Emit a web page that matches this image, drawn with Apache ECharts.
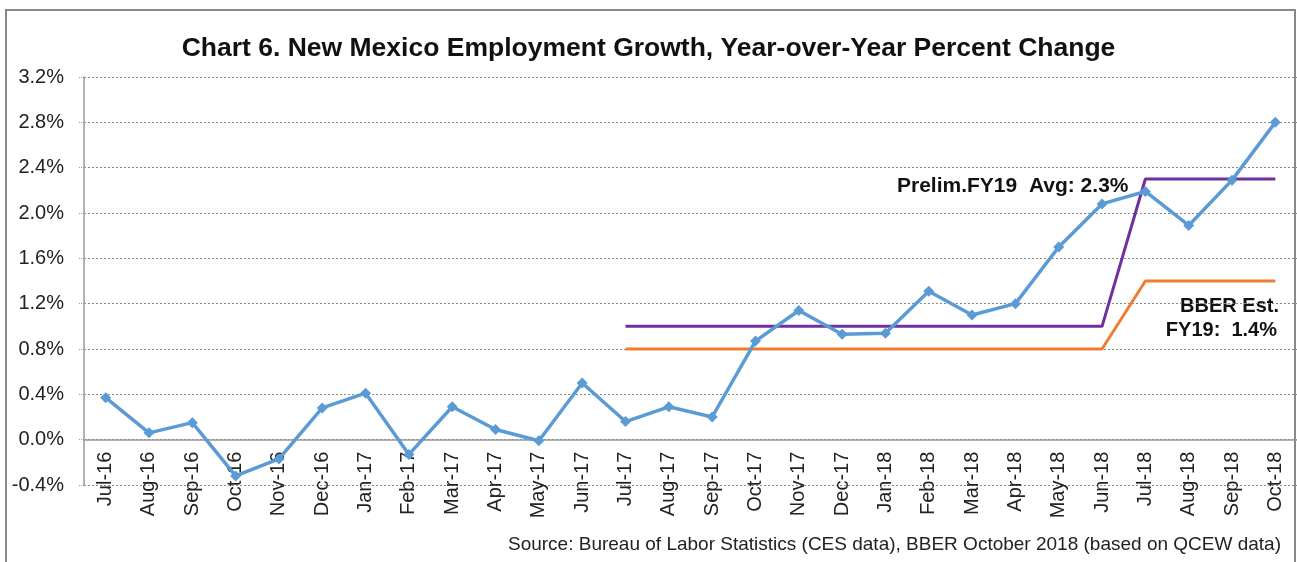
<!DOCTYPE html>
<html lang="en" style="height: 100%">
<head>
    <meta charset="utf-8">
</head>
<body style="height: 100%; margin: 0; background: #fff">
    <div id="main" style="width: 1297px; height: 562px"></div>
    <script src="https://fastly.jsdelivr.net/npm/echarts@6.0.0/dist/echarts.min.js"></script>
    <script type="text/javascript">
        var months = ['Jul-16', 'Aug-16', 'Sep-16', 'Oct-16', 'Nov-16', 'Dec-16', 'Jan-17', 'Feb-17',
            'Mar-17', 'Apr-17', 'May-17', 'Jun-17', 'Jul-17', 'Aug-17', 'Sep-17', 'Oct-17', 'Nov-17',
            'Dec-17', 'Jan-18', 'Feb-18', 'Mar-18', 'Apr-18', 'May-18', 'Jun-18', 'Jul-18', 'Aug-18',
            'Sep-18', 'Oct-18'];
        // year-over-year % change
        var growth = [0.37, 0.06, 0.15, -0.32, -0.17, 0.28, 0.41, -0.13, 0.29, 0.09, -0.01, 0.50,
            0.16, 0.29, 0.20, 0.87, 1.14, 0.93, 0.94, 1.31, 1.10, 1.20, 1.70, 2.08, 2.19, 1.89, 2.29, 2.80];
        var prelim = [null, null, null, null, null, null, null, null, null, null, null, null,
            1.0, 1.0, 1.0, 1.0, 1.0, 1.0, 1.0, 1.0, 1.0, 1.0, 1.0, 1.0, 2.3, 2.3, 2.3, 2.3];
        var bber = [null, null, null, null, null, null, null, null, null, null, null, null,
            0.8, 0.8, 0.8, 0.8, 0.8, 0.8, 0.8, 0.8, 0.8, 0.8, 0.8, 0.8, 1.4, 1.4, 1.4, 1.4];

        var dom = document.getElementById('main');
        var myChart = echarts.init(dom, null, { renderer: 'canvas' });
        var font = 'Liberation Sans, Arial, sans-serif';
        var gridTop = 77, gridBottom = 77;
        // move the category axis up from the -0.4 edge to the zero line
        var zeroOffset = (562 - gridTop - gridBottom) / 9;

        var option = {
            animation: false,
            backgroundColor: '#fff',
            title: {
                text: 'Chart 6. New Mexico Employment Growth, Year-over-Year Percent Change',
                left: 'center',
                top: 30,
                textStyle: { fontFamily: font, fontSize: 26.5, fontWeight: 'bold', color: '#111' }
            },
            grid: { left: 84, right: 0, top: gridTop, bottom: gridBottom },
            xAxis: {
                type: 'category',
                data: months,
                boundaryGap: true,
                offset: -zeroOffset,
                axisLine: { onZero: false, lineStyle: { color: '#999', width: 1.5 } },
                axisTick: { show: false },
                axisLabel: {
                    rotate: 90, interval: 0, margin: 12,
                    fontFamily: font, fontSize: 20, color: '#222'
                }
            },
            yAxis: {
                type: 'value',
                min: -0.4, max: 3.2, interval: 0.4,
                axisLine: { show: true, lineStyle: { color: '#999', width: 1.5 } },
                axisTick: { show: true, length: 6, lineStyle: { color: '#999', type: 'dotted' } },
                axisLabel: {
                    margin: 20, fontFamily: font, fontSize: 20, color: '#222',
                    formatter: function (v) { return v.toFixed(1) + '%'; }
                },
                splitLine: { lineStyle: { color: '#888', type: [2, 2], width: 1 } }
            },
            series: [
                {
                    name: 'Prelim FY19',
                    type: 'line',
                    data: prelim,
                    showSymbol: false,
                    lineStyle: { color: '#7030A0', width: 3 },
                    z: 2
                },
                {
                    name: 'BBER FY19',
                    type: 'line',
                    data: bber,
                    showSymbol: false,
                    lineStyle: { color: '#ED7D31', width: 3 },
                    z: 2
                },
                {
                    name: 'Employment growth',
                    type: 'line',
                    data: growth,
                    symbol: 'diamond',
                    symbolSize: 11,
                    itemStyle: { color: '#5B9BD5' },
                    lineStyle: { color: '#5B9BD5', width: 3.5 },
                    z: 3
                }
            ],
            graphic: [
                {
                    type: 'rect',
                    shape: { x: 6, y: 10, width: 1289, height: 600 },
                    style: { fill: 'none', stroke: '#888', lineWidth: 2 },
                    silent: true
                },
                {
                    type: 'text', left: 897, top: 176,
                    style: { text: 'Prelim.FY19  Avg: 2.3%', fontFamily: font, fontSize: 21, fontWeight: 'bold', fill: '#111' }
                },
                {
                    type: 'text', right: 18, top: 296,
                    style: { text: 'BBER Est.', fontFamily: font, fontSize: 20, fontWeight: 'bold', fill: '#111', align: 'right' }
                },
                {
                    type: 'text', right: 20, top: 320,
                    style: { text: 'FY19:  1.4%', fontFamily: font, fontSize: 20, fontWeight: 'bold', fill: '#111', align: 'right' }
                },
                {
                    type: 'text', right: 16, top: 535,
                    style: { text: 'Source: Bureau of Labor Statistics (CES data), BBER October 2018 (based on QCEW data)', fontFamily: font, fontSize: 19, fill: '#222' }
                }
            ]
        };

        myChart.setOption(option);
        window.addEventListener('resize', myChart.resize);
    </script>
</body>
</html>
